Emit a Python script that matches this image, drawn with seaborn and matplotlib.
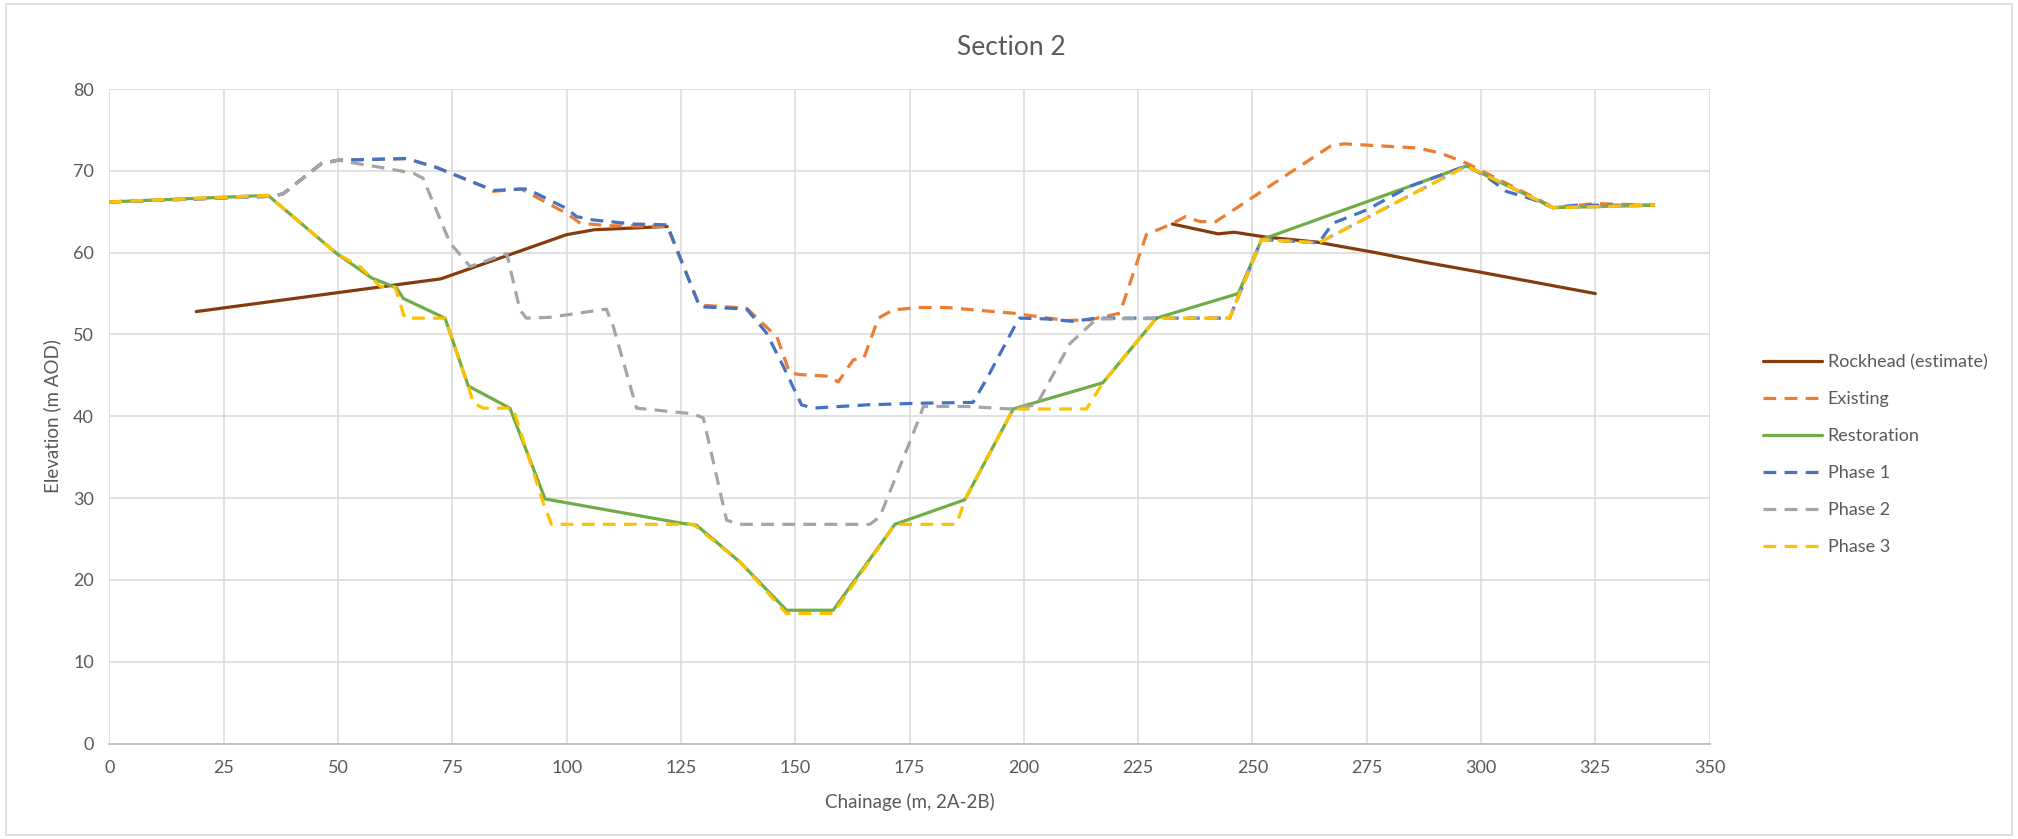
import matplotlib
matplotlib.use("Agg")
import matplotlib.pyplot as plt
from matplotlib.lines import Line2D
from matplotlib.patches import Rectangle
import pandas as pd
import seaborn as sns

# Rockhead (estimate) - two separate runs
rock_x = [19, 72.5, 100, 106, 122, 232.5, 242.5, 246, 253, 264, 277, 287, 300, 325]
rock_y = [52.8, 56.8, 62.2, 62.8, 63.2, 63.5, 62.3, 62.5, 61.9, 61.3, 60.0, 58.9, 57.6, 55.0]
rock_seg = [0, 0, 0, 0, 0, 1, 1, 1, 1, 1, 1, 1, 1, 1]

exist_x = [0, 35.8, 38, 46.4, 50, 57, 65, 71.6, 81.8, 84, 90, 100, 103, 109, 122, 129, 139.4,
           146, 148.8, 151, 157.2, 159.4, 162.7, 165, 168.2, 171.4, 177, 183, 197.7, 209.3,
           214.4, 221, 226.8, 232.3, 235.3, 238.5, 242, 267, 270, 286, 291, 297, 316, 325, 338]
exist_y = [66.2, 66.9, 67.2, 70.9, 71.3, 71.4, 71.5, 70.4, 68.1, 67.5, 67.8, 64.8, 63.6, 63.3,
           63.2, 53.6, 53.2, 49.7, 45.3, 45.1, 44.9, 44.2, 46.9, 47.1, 52, 53, 53.3, 53.3, 52.6,
           51.7, 51.8, 52.6, 62.2, 63.5, 64.4, 63.8, 63.8, 73, 73.3, 72.8, 72.2, 70.9, 65.5, 66, 65.8]

rest_x = [0, 34.7, 49.7, 57.4, 62.8, 64.3, 73.4, 78.5, 87.6, 95.3, 125.5, 128.4, 137.9, 148.1,
          158.3, 171.8, 187.1, 197.7, 217.3, 229, 246.9, 252, 296.8, 315.7, 338]
rest_y = [66.2, 67, 59.9, 56.9, 55.7, 54.4, 52, 43.7, 41, 29.9, 26.9, 26.7, 22.2, 16.3,
          16.3, 26.8, 29.8, 40.9, 44.1, 52, 55, 61.6, 70.6, 65.5, 65.8]

p1_x = [0, 35.8, 38, 46.4, 50, 65, 71.6, 81.8, 84, 91.3, 100, 102.2, 105.8, 114.6, 122, 129.1,
        139.4, 143.7, 147.4, 151.4, 153.9, 165.6, 177.3, 188.9, 191.8, 198, 199.1, 205, 210.8,
        215.9, 245, 252, 264.5, 267.6, 274.9, 284.4, 296.8, 301.2, 305.5, 311.4, 315.7, 320.9, 338]
p1_y = [66.2, 66.9, 67.2, 70.9, 71.3, 71.5, 70.4, 68.1, 67.6, 67.8, 65.4, 64.4, 64, 63.5, 63.4,
        53.4, 53.1, 50.2, 46.1, 41.4, 41, 41.4, 41.6, 41.7, 44.5, 51, 52, 51.9, 51.6, 52, 52,
        61.6, 61.2, 63.6, 65.2, 68.1, 70.6, 69.3, 67.5, 66.5, 65.5, 65.8, 65.8]

p2_x = [0, 35.8, 38, 46.4, 50, 54.1, 60.6, 66.5, 68.6, 74.5, 78.9, 86.9, 89.8, 91.2, 96.3, 108.7,
        110.2, 115.3, 127.7, 129.9, 135, 137.9, 166.3, 168.5, 177.3, 178, 187.5, 196.9, 202.8,
        210.1, 215.9, 245, 252, 264.5, 296.8, 315.7, 338]
p2_y = [66.2, 66.9, 67.2, 70.9, 71.3, 70.9, 70.3, 69.7, 69.1, 61.2, 58.3, 59.9, 53, 52, 52.1,
        53.1, 51, 41, 40.3, 39.8, 27.3, 26.8, 26.8, 27.7, 40, 41.2, 41.2, 40.9, 41.4, 48.9, 51.9,
        52, 61.6, 61.2, 70.6, 65.5, 65.8]

p3_x = [0, 34.7, 49.7, 54.8, 59.2, 62.5, 64.6, 73.4, 78.5, 79.6, 81.8, 88.3, 94.9, 96.7, 127.7,
        137.9, 148.1, 158.3, 171.8, 185.3, 187.1, 197.7, 213.7, 217.3, 229, 245, 252, 264.5,
        296.8, 315.7, 338]
p3_y = [66.2, 67, 59.9, 58.3, 55.9, 55.8, 52, 52, 43.7, 41.6, 41, 41, 29.4, 26.8, 26.8,
        22.2, 15.9, 15.9, 26.8, 26.8, 29.8, 40.9, 40.9, 44.1, 52, 52, 61.6, 61.2,
        70.6, 65.5, 65.8]

labels = ["Rockhead (estimate)", "Existing", "Restoration", "Phase 1", "Phase 2", "Phase 3"]
colors = ["#843C0C", "#ED7D31", "#70AD47", "#4472C4", "#A5A5A5", "#FFC000"]
dashed = [False, True, False, True, True, True]

sns.set_style("white")
plt.rcParams["font.family"] = ["Lato", "DejaVu Sans"]
text_color = "#595959"
grid_color = "#D9D9D9"
lw = 2.3
dash_pat = (4, 2.6)

fig = plt.figure(figsize=(20.18, 8.39), dpi=100)
ax = fig.add_axes([0.0542, 0.1137, 0.7930, 0.7802])

rock_df = pd.DataFrame({"x": rock_x, "y": rock_y, "seg": rock_seg})
sns.lineplot(data=rock_df, x="x", y="y", units="seg", estimator=None, sort=False,
             color=colors[0], linewidth=lw, ax=ax, legend=False)

series = [(exist_x, exist_y), (rest_x, rest_y), (p1_x, p1_y), (p2_x, p2_y), (p3_x, p3_y)]
for i, (xs, ys) in enumerate(series, start=1):
    sns.lineplot(x=xs, y=ys, sort=False, color=colors[i], linewidth=lw, ax=ax)
    if dashed[i]:
        ax.lines[-1].set_dashes(dash_pat)
    ax.lines[-1].set_solid_capstyle("butt")

ax.set_xlim(0, 350)
ax.set_ylim(0, 80)
ax.set_xticks(range(0, 351, 25))
ax.set_yticks(range(0, 81, 10))
ax.grid(True, color=grid_color, linewidth=1.1)
ax.set_axisbelow(True)
for side in ["top", "right", "left"]:
    ax.spines[side].set_visible(False)
ax.spines["bottom"].set_color("#BFBFBF")
ax.spines["bottom"].set_linewidth(1.3)
ax.tick_params(axis="both", length=0, labelsize=13, labelcolor=text_color)
ax.tick_params(axis="x", pad=12)
ax.tick_params(axis="y", pad=11)

ax.set_xlabel("Chainage (m, 2A-2B)", fontsize=13.5, color=text_color)
ax.set_ylabel("Elevation (m AOD)", fontsize=13.5, color=text_color)
ax.xaxis.set_label_coords(0.5, -0.075)
ax.yaxis.set_label_coords(-0.030, 0.5)

fig.text(0.501, 0.943, "Section 2", ha="center", va="center", fontsize=19, color=text_color)

handles = []
for c, d in zip(colors, dashed):
    h = Line2D([0], [0], color=c, linewidth=lw)
    if d:
        h.set_dashes(dash_pat)
    handles.append(h)
fig.legend(handles, labels, loc="center left", bbox_to_anchor=(0.869, 0.458),
           frameon=False, fontsize=13, labelcolor=text_color, handlelength=3.3,
           handletextpad=0.3, labelspacing=1.16, borderpad=0)

fig.patches.append(Rectangle((0.003, 0.005), 0.994, 0.99, transform=fig.transFigure,
                             fill=False, edgecolor=grid_color, linewidth=1.2))

fig.savefig("out.png", dpi=100)
